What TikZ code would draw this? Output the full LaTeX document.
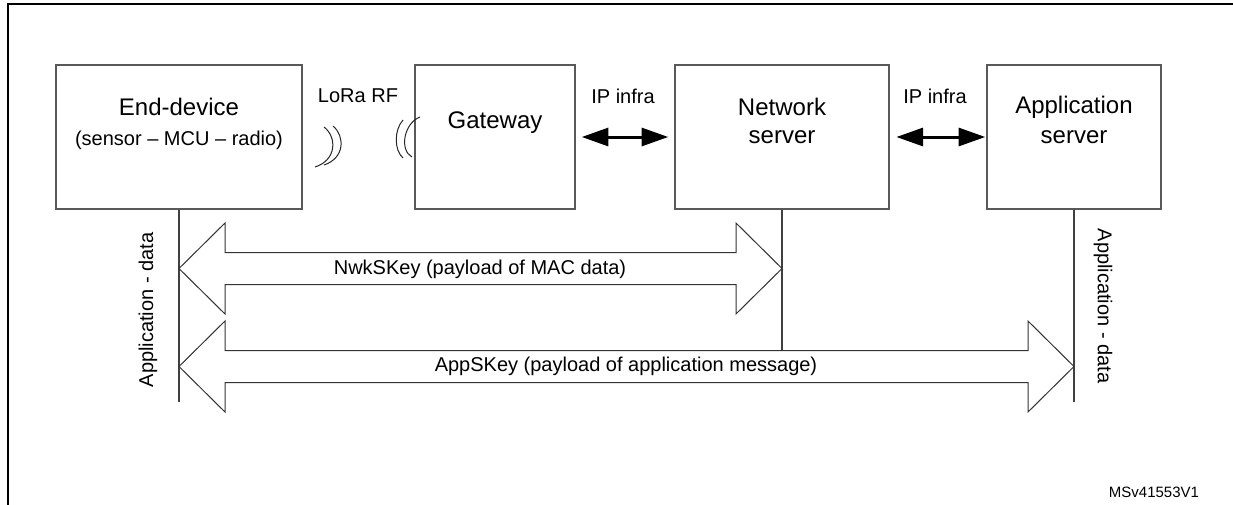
\documentclass[tikz,border=0pt]{standalone}
\usepackage{fontspec}
\setmainfont{Liberation Sans}
\usetikzlibrary{calc,arrows.meta}
% hollow double-headed arrow between two tip coordinates (same y)
\newcommand\fatdoublearrow[2]{%
  \draw[fatarrow] (#1) -- ++(46,-45.5) -- ++(0,29.5)
    -- ($(#2)+(-46,-16)$) -- ++(0,-29.5) -- (#2)
    -- ++(-46,45.5) -- ++(0,-29.5)
    -- ($(#1)+(46,16)$) -- ++(0,29.5) -- cycle;}
\begin{document}
\begin{tikzpicture}[x=0.75pt,y=-0.75pt,
  unitbox/.style={draw=black!65,line width=1.1pt,minimum height=108pt,inner sep=0pt},
  ttl/.style={font=\fontsize{18}{21}\selectfont,inner sep=0pt},
  lbl/.style={font=\fontsize{15}{18}\selectfont,inner sep=0pt},
  tag/.style={font=\fontsize{11.25}{13}\selectfont,inner sep=0pt},
  wave/.style={line width=0.75pt,black!85},
  iparrow/.style={line width=2.25pt,
    {Triangle[length=20pt,width=13.5pt]}-{Triangle[length=20pt,width=13.5pt]}},
  fatarrow/.style={draw=black!80,line width=0.75pt,fill=white,line join=miter},
  lifeline/.style={draw=black!75,line width=0.9pt}]
\useasboundingbox (0,0) rectangle (1233,504);

% outer frame
\draw[line width=1.5pt] (8,520) -- (8,4) -- (1240,4);

% units
\node[unitbox,minimum width=184.5pt] (ed) at (179,137) {};
\node[unitbox,minimum width=120pt]   (gw) at (495,137) {};
\node[unitbox,minimum width=160.5pt] (ns) at (782,137) {};
\node[unitbox,minimum width=130.5pt] (as) at (1074,137) {};

\node[ttl] (edt) at (179,107) {End-device};
\node[lbl] (eds) at (179,140) {(sensor – MCU – radio)};
\node[ttl] (gwt) at (495,123) {Gateway};
\node[ttl] (nst) at (782,107) {Network};
\node[ttl] (nss) at (782,137) {server};
\node[ttl] (ast) at (1074,107) {Application};
\node[ttl] (ass) at (1074,137) {server};

% radio link
\node[lbl] (rf) at (358,96) {LoRa RF};
\draw[wave] (324,127) .. controls (337,137) and (337,160) .. (315,167);
\draw[wave] (333,126) .. controls (345,136) and (345,158) .. (324,165);
\draw[wave] (403,120) .. controls (394,130) and (394,150) .. (403,158);
\draw[wave] (420,117) .. controls (404,123) and (399,150) .. (412,157);

% IP links
\draw[iparrow,shorten <=4.5pt,shorten >=4.5pt] (gw.east) -- (ns.west);
\draw[iparrow,shorten <=5pt,shorten >=0.75pt] (ns.east) -- (as.west);
\node[lbl] (ip1) at (623,96) {IP infra};
\node[lbl] (ip2) at (935,96) {IP infra};

% lifelines
\coordinate (edEnd) at (179,402);
\coordinate (nsEnd) at (782,351);
\coordinate (asEnd) at (1074,402);
\draw[lifeline] (ed.south) -- (edEnd);
\draw[lifeline] (ns.south) -- (nsEnd);
\draw[lifeline] (as.south) -- (asEnd);

% key scopes
\coordinate (nwkL) at (179,268.5);
\coordinate (nwkR) at (782,268.5);
\coordinate (appL) at (179,366.5);
\coordinate (appR) at (1074,366.5);
\fatdoublearrow{nwkL}{nwkR}
\fatdoublearrow{appL}{appR}
\node[lbl] (nwk) at (480,269) {NwkSKey (payload of MAC data)};
\node[lbl] (app) at (626,366) {AppSKey (payload of application message)};

\node[lbl,rotate=90]  (adL) at (148,310) {Application - data};
\node[lbl,rotate=-90] (adR) at (1103,306) {Application - data};

\node[tag] (ref) at (1154,492) {MSv41553V1};
\end{tikzpicture}
\end{document}
